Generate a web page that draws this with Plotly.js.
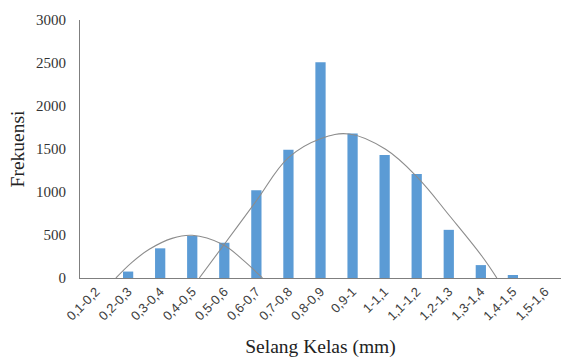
<!DOCTYPE html>
<html>
<head>
<meta charset="utf-8">
<script src="https://cdn.plot.ly/plotly-3.0.1.min.js"></script>
<style>html,body{margin:0;padding:0;background:#fff;}#chart{width:561px;height:358px;}</style>
</head>
<body>
<div id="chart"></div>
<script>
// Class intervals (categories)
const categories = ["0,1-0,2","0,2-0,3","0,3-0,4","0,4-0,5","0,5-0,6","0,6-0,7","0,7-0,8","0,8-0,9","0,9-1","1-1,1","1,1-1,2","1,2-1,3","1,3-1,4","1,4-1,5","1,5-1,6"];
// Frequencies
const frequencies = [0, 75, 345, 490, 410, 1020, 1490, 2510, 1680, 1430, 1210, 560, 150, 35, 0];

// Fitted curve 1, x in category-index units
const curve1X = [0.62, 1.12, 1.66, 2.37, 3.0, 3.94, 4.56, 5.19];
const curve1Y = [0, 182, 334, 461, 497, 392, 217, 0];
// Fitted curve 2
const curve2X = [3.22, 4.0, 5.0, 6.0, 7.0, 7.9, 9.03, 10.03, 11.03, 12.03, 12.5];
const curve2Y = [0, 392, 898, 1400, 1620, 1674, 1496, 1167, 721, 256, 0];

const yTicks = [0, 500, 1000, 1500, 2000, 2500, 3000];

const serif = "Liberation Serif, Times New Roman, serif";
const sans = "Liberation Sans, Arial, sans-serif";

const data = [
  {
    type: "bar",
    x: categories,
    y: frequencies,
    marker: {color: "#5B9BD5"},
    width: 0.32,
    hoverinfo: "x+y"
  },
  {
    type: "scatter",
    mode: "lines",
    x: curve1X,
    y: curve1Y,
    xaxis: "x2",
    line: {color: "#8c8c8c", width: 1.1, shape: "spline", smoothing: 1.1}
  },
  {
    type: "scatter",
    mode: "lines",
    x: curve2X,
    y: curve2Y,
    xaxis: "x2",
    line: {color: "#8c8c8c", width: 1.1, shape: "spline", smoothing: 1.1}
  }
];

const layout = {
  width: 561,
  height: 358,
  margin: {l: 80, r: 0, t: 20, b: 80},
  paper_bgcolor: "#fff",
  plot_bgcolor: "#fff",
  showlegend: false,
  xaxis: {
    type: "category",
    range: [-0.5, 14.5],
    showgrid: false,
    zeroline: false,
    showline: true,
    linecolor: "#7f7f7f",
    linewidth: 1,
    ticks: "",
    tickangle: -45,
    tickfont: {family: sans, size: 13, color: "#404040"},
    title: {text: "Selang Kelas (mm)", font: {family: serif, size: 19.5, color: "#222"}, standoff: 20},
    automargin: false
  },
  xaxis2: {
    overlaying: "x",
    range: [-0.5, 14.5],
    visible: false,
    fixedrange: true
  },
  yaxis: {
    range: [0, 3000],
    tickvals: yTicks,
    showgrid: false,
    zeroline: false,
    showline: true,
    linecolor: "#7f7f7f",
    linewidth: 1,
    ticks: "",
    ticklabelstandoff: 10,
    tickfont: {family: serif, size: 15, color: "#333"},
    title: {text: "Frekuensi", font: {family: serif, size: 19.5, color: "#222"}, standoff: 6},
    automargin: false
  }
};

Plotly.newPlot("chart", data, layout, {staticPlot: true, displayModeBar: false});
</script>
</body>
</html>
